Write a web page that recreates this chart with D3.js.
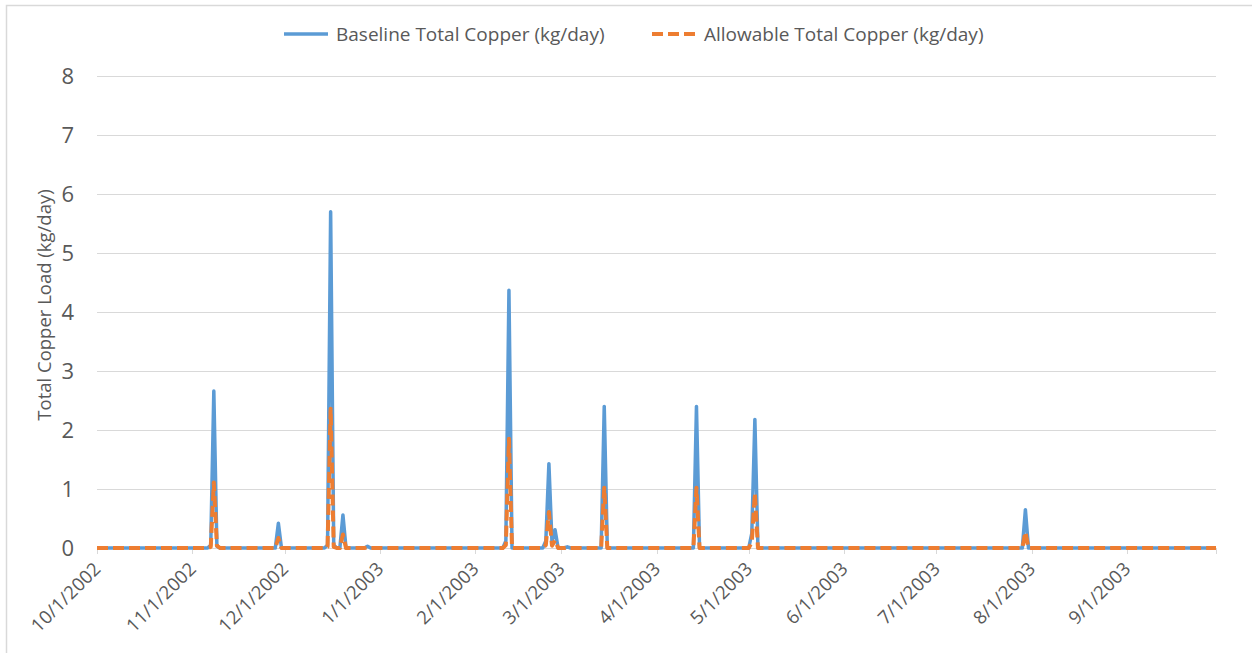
<!DOCTYPE html>
<html>
<head>
<meta charset="utf-8">
<script src="https://cdn.jsdelivr.net/npm/d3@7"></script>
<style>
  body { margin: 0; background: #fff; }
  svg text { font-family: "Open Sans", "Liberation Sans", sans-serif; fill: #595959; }
</style>
</head>
<body>
<svg id="chart" width="1252" height="653"></svg>
<script>
// days with a non-zero load, every other day of the water year is 0
var eventDates = ['2002-11-07', '2002-11-08', '2002-11-09', '2002-11-29', '2002-12-15', '2002-12-16', '2002-12-17',
  '2002-12-20', '2002-12-28', '2003-02-11', '2003-02-12', '2003-02-24', '2003-02-25', '2003-02-26', '2003-02-27',
  '2003-03-03', '2003-03-15', '2003-04-14', '2003-05-02', '2003-05-03', '2003-07-30'];
var baseline = [0.05, 2.66, 0.03, 0.42, 0.05, 5.70, 0.05, 0.56, 0.03, 0.12, 4.37, 0.12, 1.43, 0.1, 0.31,
  0.02, 2.40, 2.40, 0.25, 2.18, 0.65];
var allowable = [0.02, 1.11, 0.04, 0.17, 0.02, 2.36, 0.02, 0.23, 0.01, 0.05, 1.85, 0.05, 0.61, 0.04, 0.13,
  0.01, 1.02, 1.02, 0.1, 0.93, 0.27];
var yTicks = [0, 1, 2, 3, 4, 5, 6, 7, 8];
var seriesNames = ['Baseline Total Copper (kg/day)', 'Allowable Total Copper (kg/day)'];

var parse = d3.timeParse('%Y-%m-%d');
var start = parse('2002-10-01'), end = parse('2003-09-30');

// build daily rows
var byDay = {};
eventDates.forEach(function(d, i) { byDay[d] = i; });
var days = d3.timeDay.range(start, d3.timeDay.offset(end, 1));
var fmt = d3.timeFormat('%Y-%m-%d');
var rows = days.map(function(d) {
  var i = byDay[fmt(d)];
  return {date: d, base: i == null ? 0 : baseline[i], allow: i == null ? 0 : allowable[i]};
});

var margin = {top: 76, right: 36, bottom: 105, left: 97};
var width = 1216 - margin.left, height = 548 - margin.top;

var svg = d3.select('#chart');

// chart border
svg.append('rect').attr('x', 6.5).attr('y', 5.5).attr('width', 1260).attr('height', 660)
  .attr('fill', 'none').attr('stroke', '#d9d9d9').attr('stroke-width', 1.5);

var g = svg.append('g').attr('transform', 'translate(' + margin.left + ',' + margin.top + ')');

var x = d3.scaleTime().domain([start, end]).range([0, width]);
var y = d3.scaleLinear().domain([0, 8]).range([height, 0]);

// gridlines
g.append('g').selectAll('line').data(yTicks.slice(1)).enter().append('line')
  .attr('x1', 0).attr('x2', width)
  .attr('y1', function(d) { return Math.round(y(d)) + 0.5; })
  .attr('y2', function(d) { return Math.round(y(d)) + 0.5; })
  .attr('stroke', '#d9d9d9').attr('stroke-width', 1);

// y axis labels
g.append('g').selectAll('text').data(yTicks).enter().append('text')
  .attr('x', -23).attr('y', function(d) { return y(d); })
  .attr('dy', '0.36em').attr('text-anchor', 'end')
  .style('font-size', '22px')
  .text(function(d) { return d; });

// x axis
var months = d3.timeMonth.range(start, end);
var xAxis = g.append('g').attr('transform', 'translate(0,' + height + ')');
xAxis.append('line').attr('x1', 0).attr('x2', width).attr('y1', 0.5).attr('y2', 0.5)
  .attr('stroke', '#d9d9d9');
xAxis.selectAll('.tick').data(months.concat([end])).enter().append('line')
  .attr('x1', function(d) { return Math.round(x(d)) + 0.5; })
  .attr('x2', function(d) { return Math.round(x(d)) + 0.5; })
  .attr('y1', 0).attr('y2', 6).attr('stroke', '#d9d9d9');
xAxis.selectAll('text').data(months).enter().append('text')
  .attr('transform', function(d) { return 'translate(' + (x(d) + 5) + ',22) rotate(-45)'; })
  .attr('text-anchor', 'end')
  .style('font-size', '18.5px')
  .style('letter-spacing', '0.2px')
  .text(d3.timeFormat('%-m/%-d/%Y'));

// y axis title
svg.append('text')
  .attr('transform', 'translate(51,305) rotate(-90)')
  .attr('text-anchor', 'middle')
  .style('font-size', '18.5px')
  .text('Total Copper Load (kg/day)');

// lines
var lineBase = d3.line().x(function(d) { return x(d.date); }).y(function(d) { return y(d.base); });
var lineAllow = d3.line().x(function(d) { return x(d.date); }).y(function(d) { return y(d.allow); });

g.append('path').datum(rows).attr('d', lineBase)
  .attr('fill', 'none').attr('stroke', '#5b9bd5').attr('stroke-width', 3.5)
  .attr('stroke-linejoin', 'round');
g.append('path').datum(rows).attr('d', lineAllow)
  .attr('fill', 'none').attr('stroke', '#ed7d31').attr('stroke-width', 4)
  .attr('stroke-dasharray', '11,5').attr('stroke-linejoin', 'round');

// legend
var legend = svg.append('g').attr('transform', 'translate(0,34)');
var items = [
  {name: seriesNames[0], x: 284, color: '#5b9bd5', dash: null, w: 3.5},
  {name: seriesNames[1], x: 652, color: '#ed7d31', dash: '11,5', w: 4}
];
items.forEach(function(it) {
  legend.append('line').attr('x1', it.x).attr('x2', it.x + 44).attr('y1', 0).attr('y2', 0)
    .attr('stroke', it.color).attr('stroke-width', it.w)
    .attr('stroke-dasharray', it.dash);
  legend.append('text').attr('x', it.x + 52).attr('y', 0).attr('dy', '0.35em')
    .style('font-size', '19px').text(it.name);
});
</script>
</body>
</html>
